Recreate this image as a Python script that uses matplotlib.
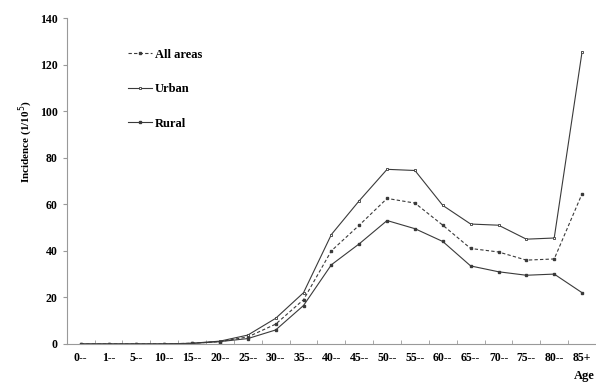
import matplotlib.pyplot as plt
import numpy as np

ages = ['0--', '1--', '5--', '10--', '15--', '20--', '25--', '30--', '35--', '40--',
        '45--', '50--', '55--', '60--', '65--', '70--', '75--', '80--', '85+']
all_areas = [0, 0, 0, 0, 0.3, 1.0, 3.0, 8.5, 19, 40, 51, 62.5, 60.5, 51, 41, 39.5, 36, 36.5, 64.5]
urban = [0, 0, 0, 0, 0.3, 1.2, 3.8, 11, 22, 47, 61.5, 75, 74.5, 59.5, 51.5, 51, 45, 45.5, 125.5]
rural = [0, 0, 0, 0, 0.2, 1.0, 2.3, 6, 16.5, 34, 43, 53, 49.5, 44, 33.5, 31, 29.5, 30, 22]

plt.rcParams['font.family'] = ['Liberation Serif', 'DejaVu Serif']

fig = plt.figure(figsize=(5.96, 3.83), dpi=100)
ax = fig.add_axes([0.112, 0.102, 0.888, 0.851])

x = np.arange(len(ages))
lc = '#3a3a3a'
ax.plot(x, all_areas, color=lc, lw=0.8, ls=(0, (3, 2)), marker='s', ms=1.8, label='All areas')
ax.plot(x, urban, color=lc, lw=0.8, marker='s', ms=2, mfc='white', mec=lc, mew=0.6, label='Urban')
ax.plot(x, rural, color=lc, lw=0.8, marker='s', ms=1.8, label='Rural')

ax.set_xlim(-0.5, 18.4)
ax.set_ylim(0, 140)
ax.set_yticks(range(0, 141, 20))
ax.set_xticks(x)
ax.set_xticklabels(ages, fontweight='bold', fontsize=8.5)
ax.set_xticks(np.arange(-0.5, 18.6, 1), minor=True)
ax.tick_params(axis='x', which='major', length=0, pad=6)
ax.tick_params(axis='x', which='minor', length=3, color='#999999', direction='in')
ax.tick_params(axis='y', length=3, color='#999999', labelsize=8.5)
for lab in ax.get_yticklabels():
    lab.set_fontweight('bold')

for s in ['top', 'right']:
    ax.spines[s].set_visible(False)
for s in ['left', 'bottom']:
    ax.spines[s].set_color('#999999')
    ax.spines[s].set_linewidth(0.8)

ax.set_ylabel('Incidence (1/10$^5$)', fontweight='bold', fontsize=8)
ax.yaxis.set_label_coords(-0.06, 0.62)
fig.text(0.98, 0.01, 'Age', fontweight='bold', fontsize=9, ha='center')

leg = ax.legend(loc='upper left', bbox_to_anchor=(0.095, 0.94), frameon=False,
                prop={'weight': 'bold', 'size': 9}, labelspacing=1.8,
                handlelength=1.9, handletextpad=0.2)

fig.savefig('out.png', dpi=100)
